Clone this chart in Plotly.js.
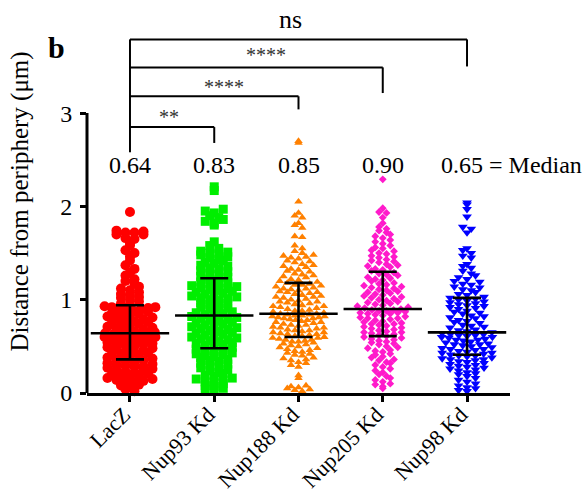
<!DOCTYPE html>
<html>
<head>
<meta charset="utf-8">
<script src="https://cdn.plot.ly/plotly-3.0.1.min.js"></script>
<style>html,body{margin:0;padding:0;background:#fff;}#chart{width:587px;height:494px;}</style>
</head>
<body>
<div id="chart"></div>
<script>
// ---------- data ----------
const categories = ['LacZ', 'Nup93 Kd', 'Nup188 Kd', 'Nup205 Kd', 'Nup98 Kd'];

const lacz = [0.02,0.04,0.06,0.08,0.09,0.11,0.12,0.13,0.14,0.15,0.16,0.17,0.18,0.19,
  0.20,0.21,0.22,0.23,0.24,0.25,0.26,0.27,0.28,0.29,0.29,0.30,0.31,0.32,0.33,0.34,0.35,0.35,
  0.37,0.38,0.39,0.40,0.41,0.42,0.43,0.44,0.45,0.46,0.47,0.48,0.49,0.50,0.51,0.52,0.52,0.53,
  0.54,0.55,0.56,0.57,0.57,0.58,0.59,0.60,0.60,0.61,0.62,0.62,0.63,0.63,0.64,
  0.65,0.66,0.67,0.68,0.69,0.70,0.71,0.72,0.73,0.74,0.75,0.76,0.77,0.78,0.79,0.80,0.81,0.82,
  0.83,0.84,0.85,0.86,0.87,0.88,0.89,0.90,0.90,0.91,0.92,0.92,0.93,0.94,
  0.96,0.98,1.00,1.02,1.03,1.05,1.06,1.08,1.10,1.12,1.14,1.17,1.20,1.22,1.26,1.29,1.33,1.37,
  1.42,1.46,1.50,1.53,1.58,1.60,1.65,1.66,1.70,1.70,1.72,1.72,1.73,1.74,1.94];

const nup93 = [0.02,0.04,0.05,0.07,0.08,0.10,0.11,0.12,0.14,0.15,0.16,0.18,0.19,0.21,0.22,
  0.24,0.25,0.27,0.28,0.30,0.31,0.32,0.34,0.35,0.36,0.38,0.39,0.40,0.41,0.42,0.43,0.44,0.45,0.46,0.47,
  0.49,0.50,0.51,0.52,0.53,0.54,0.55,0.56,0.57,0.58,0.59,0.60,0.61,0.62,0.63,0.64,0.65,0.66,
  0.67,0.68,0.69,0.70,0.71,0.72,0.73,0.74,0.75,0.76,0.77,0.78,0.79,0.80,0.81,0.82,0.83,
  0.84,0.85,0.86,0.87,0.89,0.90,0.91,0.92,0.94,0.95,0.96,0.97,0.99,1.00,1.01,1.02,1.03,1.04,
  1.05,1.06,1.07,1.08,1.09,1.10,1.11,1.12,1.13,1.14,1.15,1.16,1.17,1.18,1.19,1.21,1.22,
  1.24,1.25,1.27,1.28,1.30,1.31,1.33,1.34,1.36,1.37,1.39,1.40,1.42,1.43,1.45,1.46,1.48,1.49,
  1.50,1.51,1.52,1.55,1.58,1.62,1.80,1.82,1.84,1.86,1.88,1.90,1.93,1.95,1.97,2.17,2.21];

const nup188 = [0.02,0.03,0.04,0.05,0.06,0.07,0.08,0.16,0.19,0.28,0.30,0.32,0.33,0.35,0.36,
  0.37,0.38,0.40,0.41,0.42,0.43,0.44,0.45,0.46,0.47,0.48,0.49,0.50,0.51,0.52,0.53,0.54,0.55,
  0.55,0.56,0.57,0.57,0.58,0.59,0.59,
  0.60,0.61,0.61,0.62,0.63,0.63,0.64,0.65,0.65,0.66,0.67,0.67,0.68,0.69,0.70,0.70,0.71,0.72,
  0.73,0.73,0.74,0.75,0.76,0.76,0.77,0.78,0.78,0.79,0.80,0.80,0.81,0.81,0.82,0.82,0.83,0.83,
  0.84,0.84,0.85,0.85,
  0.86,0.87,0.88,0.88,0.89,0.90,0.91,0.92,0.93,0.93,0.94,0.95,0.96,0.97,0.98,0.98,0.99,1.00,
  1.01,1.02,1.03,1.03,1.04,1.05,1.06,1.07,1.08,1.08,1.09,1.10,1.11,1.12,1.12,1.13,1.14,1.15,
  1.16,1.16,1.17,1.18,
  1.19,1.20,1.21,1.22,1.24,1.25,1.26,1.27,1.28,1.30,1.31,1.32,1.33,1.35,1.36,1.37,1.38,1.40,
  1.41,1.42,1.44,1.45,1.46,1.47,1.48,1.50,1.52,1.55,1.58,1.67,1.68,1.77,1.80,1.82,1.88,1.90,
  1.93,2.05,2.68,2.70];

const nup205 = [0.05,0.07,0.09,0.10,0.12,0.14,0.16,0.18,0.20,0.22,0.24,0.26,0.28,0.30,0.32,
  0.33,0.35,0.36,0.38,0.39,0.41,0.42,0.44,0.45,0.46,0.48,0.49,0.50,0.52,0.53,0.54,0.55,0.56,
  0.57,0.58,0.59,0.60,
  0.61,0.62,0.63,0.64,0.65,0.65,0.66,0.67,0.68,0.69,0.70,0.71,0.72,0.73,0.74,0.74,0.75,0.76,
  0.77,0.78,0.79,0.80,0.80,0.81,0.82,0.83,0.84,0.85,0.85,0.86,0.86,0.87,0.88,0.88,0.89,0.89,0.90,
  0.91,0.92,0.93,0.94,0.95,0.96,0.97,0.98,0.99,1.00,1.01,1.02,1.03,1.04,1.05,1.06,1.07,1.08,
  1.09,1.10,1.11,1.12,1.13,1.14,1.15,1.16,1.17,1.18,1.20,1.21,1.22,1.23,1.24,1.26,1.27,1.28,1.29,
  1.31,1.32,1.33,1.35,1.36,1.37,1.38,1.40,1.41,1.42,1.43,1.45,1.46,1.47,1.49,1.50,1.52,1.53,
  1.55,1.56,1.58,1.60,1.62,1.64,1.66,1.68,1.70,1.72,1.74,1.76,1.78,1.82,1.88,1.93,1.94,1.98,2.29];

const nup98 = [0.02,0.03,0.05,0.06,0.08,0.10,0.12,0.14,0.16,0.18,0.20,0.21,0.22,0.24,0.25,
  0.26,0.27,0.28,0.29,0.30,0.31,0.32,0.33,0.34,0.35,0.36,0.36,0.37,0.38,0.39,0.40,0.40,
  0.41,0.42,0.43,0.43,0.44,0.45,0.46,0.47,0.47,0.48,0.49,0.50,0.51,0.52,0.52,0.53,0.54,0.55,
  0.56,0.57,0.57,0.58,0.59,0.60,0.60,0.61,0.62,0.62,0.63,0.63,0.64,0.65,
  0.66,0.67,0.68,0.70,0.71,0.72,0.73,0.75,0.76,0.77,0.78,0.80,0.81,0.82,0.83,0.85,0.86,0.87,
  0.88,0.90,0.91,0.92,0.93,0.94,0.95,0.96,0.97,0.98,0.99,1.00,1.01,1.02,
  1.03,1.05,1.06,1.08,1.10,1.11,1.13,1.14,1.16,1.17,1.19,1.20,1.22,1.24,1.26,1.28,1.31,1.34,
  1.36,1.38,1.45,1.47,1.50,1.53,1.55,1.72,1.76,1.78,1.89,1.97,2.02,2.04];

const medians = [0.64, 0.83, 0.85, 0.90, 0.65];
const q1 = [0.36, 0.48, 0.60, 0.61, 0.41];
const q3 = [0.94, 1.23, 1.18, 1.30, 1.02];
const medianLabels = ['0.64', '0.83', '0.85', '0.90', '0.65 = Median'];
const compLabels = ['**', '****', '****', 'ns'];
const compTargets = [1, 2, 3, 4];

// ---------- styling ----------
const groups = [lacz, nup93, nup188, nup205, nup98];
const colors = ['#ff0000', '#00ee00', '#ff8000', '#ff1acb', '#0000ff'];
const symbols = ['circle', 'square', 'triangle-up', 'diamond', 'triangle-down'];
const sizes = [10, 9, 7.5, 6, 8.5];
const spacingPx = [9, 9, 7.5, 7.5, 8.5];

const W = 587, H = 494;
const margin = {l: 87, r: 77, t: 10, b: 101};
const xRange = [-0.51, 4.51];
const yRange = [0, 4.105];
const plotW = W - margin.l - margin.r, plotH = H - margin.t - margin.b;
const pxPerX = plotW / (xRange[1] - xRange[0]);
const serif = 'Liberation Serif';

// GraphPad-like scatter layout: values binned into rows, spread sideways
function swarm(vals, ci, px) {
  const sorted = vals.slice().sort((a, b) => a - b);
  const h = 0.055, maxW = 58;
  const bins = {};
  sorted.forEach(v => { const k = Math.floor(v / h); (bins[k] = bins[k] || []).push(v); });
  const xs = [], ys = [];
  Object.keys(bins).forEach(k => {
    const b = bins[k];
    const n = b.length;
    const s = Math.min(px, maxW / Math.max(n, 1)) / pxPerX;
    b.forEach((v, j) => {
      let slot = (j === 0) ? 0 : (j % 2 === 1 ? -(j + 1) / 2 : j / 2);
      if (n % 2 === 0) slot += 0.5;
      xs.push(ci + slot * s);
      ys.push(v);
    });
  });
  return {xs, ys};
}

const traces = [];
groups.forEach((g, i) => {
  const p = swarm(g, i, spacingPx[i]);
  traces.push({
    type: 'scatter', mode: 'markers', x: p.xs, y: p.ys,
    marker: {symbol: symbols[i], size: sizes[i], color: colors[i], line: {width: 0}},
    hoverinfo: 'skip', showlegend: false, cliponaxis: false
  });
});

const idx = categories.map((c, i) => i);
traces.push({
  type: 'scatter', mode: 'markers', x: idx, y: medians,
  marker: {symbol: 'line-ew', size: 56, color: '#000', line: {width: 2.6, color: '#000'}},
  error_y: {type: 'data', symmetric: false,
    array: q3.map((v, i) => v - medians[i]),
    arrayminus: medians.map((v, i) => v - q1[i]),
    color: '#000', thickness: 2.6, width: 14},
  hoverinfo: 'skip', showlegend: false, cliponaxis: false
});

// comparison brackets (LacZ vs each knockdown)
const bracketTop = [2.85, 3.18, 3.49, 3.79];
const bracketDrop = [2.68, 3.04, 3.215, 3.50];
const shapes = [];
compTargets.forEach((t, i) => {
  shapes.push({type: 'line', xref: 'x', yref: 'y', x0: 0, x1: t, y0: bracketTop[i], y1: bracketTop[i], line: {color: '#000', width: 2}});
  shapes.push({type: 'line', xref: 'x', yref: 'y', x0: t, x1: t, y0: bracketTop[i], y1: bracketDrop[i], line: {color: '#000', width: 2}});
});
shapes.push({type: 'line', xref: 'x', yref: 'y', x0: 0, x1: 0, y0: 2.58, y1: bracketTop[3], line: {color: '#000', width: 2}});
// y axis line only from 0 to 3
shapes.push({type: 'line', xref: 'paper', yref: 'y', x0: 0, x1: 0, y0: 0, y1: 3, line: {color: '#000', width: 3}});

const annotations = [];
medianLabels.forEach((t, i) => {
  annotations.push({x: i === 4 ? 3.67 : i, y: 2.44, xref: 'x', yref: 'y', text: t, showarrow: false,
    xanchor: i === 4 ? 'left' : 'center', yanchor: 'middle', font: {family: serif, size: 24, color: '#000'}});
});
const labelX = [0.46, 1.12, 1.62, 1.9];
const labelY = [2.96, 3.28, 3.62, 4.0];
compLabels.forEach((t, i) => {
  annotations.push({x: labelX[i], y: labelY[i], xref: 'x', yref: 'y', text: t, showarrow: false,
    xanchor: 'center', yanchor: 'middle',
    font: {family: serif, size: i === 3 ? 26 : 20, color: i === 3 ? '#000' : '#333'}});
});
annotations.push({x: (56 - margin.l) / plotW, y: (H - margin.b - 47) / plotH, xref: 'paper', yref: 'paper',
  text: '<b>b</b>', showarrow: false,
  xanchor: 'center', yanchor: 'middle', font: {family: serif, size: 30, color: '#000'}});

const layout = {
  width: W, height: H, margin: margin,
  paper_bgcolor: '#fff', plot_bgcolor: '#fff',
  font: {family: serif, color: '#000'},
  xaxis: {
    range: xRange, tickvals: idx, ticktext: categories, tickangle: -45,
    showline: true, linecolor: '#000', linewidth: 3, ticks: 'outside', ticklen: 6, tickwidth: 3, tickcolor: '#000',
    showgrid: false, zeroline: false, tickfont: {family: serif, size: 22, color: '#000'},
    ticklabelstandoff: -9, ticklabelshift: -6, fixedrange: true
  },
  yaxis: {
    range: yRange, tickvals: [0, 1, 2, 3], ticktext: ['0', '1', '2', '3'],
    showline: false, ticks: 'outside', ticklen: 6, tickwidth: 3, tickcolor: '#000',
    showgrid: false, zeroline: false, tickfont: {family: serif, size: 24, color: '#000'},
    ticklabelstandoff: 3,
    title: {text: 'Distance from periphery (μm)', font: {family: serif, size: 25, color: '#000'}, standoff: 24},
    fixedrange: true
  },
  shapes: shapes, annotations: annotations
};

Plotly.newPlot('chart', traces, layout, {displayModeBar: false, staticPlot: true});
</script>
</body>
</html>
